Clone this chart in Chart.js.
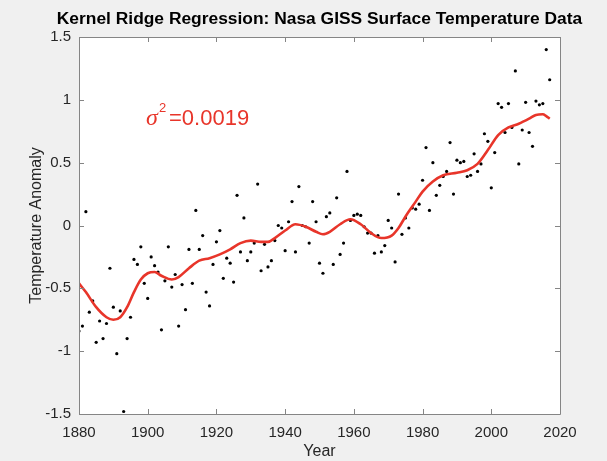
<!DOCTYPE html>
<html>
<head>
<meta charset="utf-8">
<script src="https://cdn.jsdelivr.net/npm/chart.js@4.4.1/dist/chart.umd.min.js"></script>
<style>
  body { margin: 0; background: #f0f0f0; }
  #wrap { position: relative; width: 607px; height: 461px; }
</style>
</head>
<body>
<div id="wrap"><canvas id="krr-chart"></canvas></div>
<script>
// Anomalies annuelles (points noirs)
const years = [
  1880, 1881, 1882, 1883, 1884, 1885, 1886, 1887, 1888, 1889,
  1890, 1891, 1892, 1893, 1894, 1895, 1896, 1897, 1898, 1899,
  1900, 1901, 1902, 1903, 1904, 1905, 1906, 1907, 1908, 1909,
  1910, 1911, 1912, 1913, 1914, 1915, 1916, 1917, 1918, 1919,
  1920, 1921, 1922, 1923, 1924, 1925, 1926, 1927, 1928, 1929,
  1930, 1931, 1932, 1933, 1934, 1935, 1936, 1937, 1938, 1939,
  1940, 1941, 1942, 1943, 1944, 1945, 1946, 1947, 1948, 1949,
  1950, 1951, 1952, 1953, 1954, 1955, 1956, 1957, 1958, 1959,
  1960, 1961, 1962, 1963, 1964, 1965, 1966, 1967, 1968, 1969,
  1970, 1971, 1972, 1973, 1974, 1975, 1976, 1977, 1978, 1979,
  1980, 1981, 1982, 1983, 1984, 1985, 1986, 1987, 1988, 1989,
  1990, 1991, 1992, 1993, 1994, 1995, 1996, 1997, 1998, 1999,
  2000, 2001, 2002, 2003, 2004, 2005, 2006, 2007, 2008, 2009,
  2010, 2011, 2012, 2013, 2014, 2015, 2016, 2017
];
const anomalies = [
  -0.84, -0.80, 0.11, -0.69, -0.60, -0.93, -0.76, -0.90, -0.78, -0.34,
  -0.65, -1.02, -0.68, -1.48, -0.90, -0.73, -0.27, -0.31, -0.17, -0.46,
  -0.58, -0.25, -0.32, -0.37, -0.83, -0.44, -0.17, -0.49, -0.39, -0.80,
  -0.47, -0.67, -0.19, -0.46, 0.12, -0.19, -0.08, -0.53, -0.64, -0.31,
  -0.13, -0.04, -0.42, -0.26, -0.30, -0.45, 0.24, -0.21, 0.06, -0.28,
  -0.21, -0.14, 0.33, -0.36, -0.15, -0.33, -0.28, -0.12, 0.00, -0.02,
  -0.20, 0.03, 0.19, -0.21, 0.31, 0.00, -0.01, -0.14, 0.19, 0.03,
  -0.30, -0.38, 0.07, 0.10, -0.31, 0.22, -0.23, -0.14, 0.43, 0.04,
  0.08, 0.09, 0.08, -0.01, -0.06, -0.06, -0.22, -0.08, -0.21, -0.16,
  0.04, -0.02, -0.29, 0.25, -0.07, 0.06, -0.02, 0.14, 0.13, 0.17,
  0.36, 0.62, 0.12, 0.50, 0.24, 0.32, 0.39, 0.43, 0.66, 0.25,
  0.52, 0.50, 0.51, 0.39, 0.40, 0.57, 0.43, 0.49, 0.73, 0.67,
  0.30, 0.58, 0.97, 0.94, 0.74, 0.97, 0.78, 1.23, 0.49, 0.76,
  0.98, 0.74, 0.63, 0.99, 0.96, 0.97, 1.40, 1.16
];

// Courbe de régression
const fitYears = [
  1880, 1882, 1885, 1888, 1890, 1892, 1894, 1896, 1898, 1900,
  1902, 1904, 1907, 1909, 1912, 1915, 1918, 1921, 1924, 1927,
  1930, 1933, 1935, 1937, 1940, 1943, 1946, 1949, 1951, 1953,
  1956, 1959, 1962, 1965, 1968, 1971, 1973, 1975, 1978, 1980,
  1983, 1986, 1990, 1993, 1996, 1999, 2002, 2005, 2008, 2011,
  2013, 2015, 2016, 2017
];
const fitValues = [
  -0.46, -0.53, -0.65, -0.73, -0.75, -0.73, -0.65, -0.53, -0.43, -0.38,
  -0.37, -0.40, -0.43, -0.41, -0.34, -0.28, -0.26, -0.23, -0.19, -0.14,
  -0.12, -0.13, -0.13, -0.10, -0.04, 0.01, -0.01, -0.05, -0.07, -0.05,
  0.01, 0.05, 0.01, -0.06, -0.10, -0.08, -0.02, 0.07, 0.19, 0.27,
  0.35, 0.40, 0.42, 0.44, 0.49, 0.60, 0.72, 0.78, 0.81, 0.85,
  0.88, 0.885, 0.87, 0.85
];

const xTicks = [1880, 1900, 1920, 1940, 1960, 1980, 2000, 2020];
const yTicks = [-1.5, -1, -0.5, 0, 0.5, 1, 1.5];

const chartTitle = 'Kernel Ridge Regression: Nasa GISS Surface Temperature Data';
const sigmaLabel = '\u03C3';
const sigmaPower = '2';
const sigmaValue = '=0.0019';

const FONT = '"Liberation Sans", Arial, Helvetica, sans-serif';
const RED = '#e8352a';
const AXIS_GRAY = '#858585';

// Fond gris + zone de tracé blanche
const backgroundPlugin = {
    id: 'matlabBackground',
    beforeDraw(chart) {
        const ctx = chart.ctx;
        const a = chart.chartArea;
        ctx.save();
        ctx.fillStyle = '#f0f0f0';
        ctx.fillRect(0, 0, chart.width, chart.height);
        ctx.fillStyle = '#ffffff';
        ctx.fillRect(a.left, a.top, a.right - a.left, a.bottom - a.top);
        ctx.restore();
    }
};

// Cadre et graduations vers l'intérieur, comme dans MATLAB
const boxPlugin = {
    id: 'matlabBox',
    afterDraw(chart) {
        const ctx = chart.ctx;
        const a = chart.chartArea;
        const xs = chart.scales.x;
        const ys = chart.scales.y;
        const len = 5;
        ctx.save();
        ctx.strokeStyle = AXIS_GRAY;
        ctx.lineWidth = 1;
        ctx.beginPath();
        ctx.rect(Math.round(a.left) + 0.5, Math.round(a.top) + 0.5,
                 Math.round(a.right - a.left), Math.round(a.bottom - a.top));
        xTicks.forEach(v => {
            const px = Math.round(xs.getPixelForValue(v)) + 0.5;
            ctx.moveTo(px, a.bottom);
            ctx.lineTo(px, a.bottom - len);
            ctx.moveTo(px, a.top);
            ctx.lineTo(px, a.top + len);
        });
        yTicks.forEach(v => {
            const py = Math.round(ys.getPixelForValue(v)) + 0.5;
            ctx.moveTo(a.left, py);
            ctx.lineTo(a.left + len, py);
            ctx.moveTo(a.right, py);
            ctx.lineTo(a.right - len, py);
        });
        ctx.stroke();
        ctx.restore();
    }
};

// Titre centré sur la zone de tracé + annotation sigma^2
const textPlugin = {
    id: 'matlabText',
    afterDraw(chart) {
        const ctx = chart.ctx;
        const a = chart.chartArea;
        ctx.save();
        ctx.fillStyle = '#000000';
        ctx.textAlign = 'center';
        ctx.textBaseline = 'middle';
        ctx.font = 'bold 17.4px ' + FONT;
        ctx.fillText(chartTitle, (a.left + a.right) / 2, 19);

        ctx.textAlign = 'left';
        ctx.fillStyle = RED;
        ctx.textBaseline = 'alphabetic';
        ctx.font = 'italic 24px "Liberation Serif", "DejaVu Serif", serif';
        ctx.fillText(sigmaLabel, 146, 125);
        ctx.font = '13px ' + FONT;
        ctx.fillText(sigmaPower, 159, 112);
        ctx.font = '22px ' + FONT;
        ctx.fillText(sigmaValue, 169, 125);
        ctx.restore();
    }
};

function createKrrChart(canvasId) {
    const ctx = document.getElementById(canvasId).getContext('2d');
    const points = years.map((y, i) => ({ x: y, y: anomalies[i] }));
    const fit = fitYears.map((y, i) => ({ x: y, y: fitValues[i] }));

    return new Chart(ctx, {
        type: 'scatter',
        data: {
            datasets: [
                {
                    label: 'Régression',
                    data: fit,
                    showLine: true,
                    borderColor: RED,
                    borderWidth: 2.6,
                    pointRadius: 0,
                    tension: 0.4,
                    cubicInterpolationMode: 'monotone',
                    fill: false,
                    order: 0
                },
                {
                    label: 'Données',
                    data: points,
                    backgroundColor: '#000000',
                    borderColor: '#000000',
                    borderWidth: 0,
                    pointRadius: 1.6,
                    order: 1
                }
            ]
        },
        options: {
            responsive: true,
            maintainAspectRatio: false,
            animation: false,
            layout: { padding: { left: 0, right: 47, top: 37, bottom: 0 } },
            scales: {
                x: {
                    type: 'linear',
                    min: 1880,
                    max: 2020,
                    afterBuildTicks: scale => { scale.ticks = xTicks.map(v => ({ value: v })); },
                    afterFit: scale => { scale.height = 47; },
                    grid: { display: false, drawTicks: false },
                    border: { display: false },
                    ticks: {
                        padding: 10,
                        color: '#262626',
                        font: { family: FONT, size: 15 },
                        callback: v => String(v)
                    },
                    title: {
                        display: true,
                        text: 'Year',
                        color: '#262626',
                        font: { family: FONT, size: 16 },
                        padding: { top: 0, bottom: 0 }
                    }
                },
                y: {
                    min: -1.5,
                    max: 1.5,
                    afterBuildTicks: scale => { scale.ticks = yTicks.map(v => ({ value: v })); },
                    afterFit: scale => { scale.width = 79; },
                    grid: { display: false, drawTicks: false },
                    border: { display: false },
                    ticks: {
                        padding: 8,
                        color: '#262626',
                        font: { family: FONT, size: 15 },
                        callback: v => String(v)
                    },
                    title: {
                        display: true,
                        text: 'Temperature Anomaly',
                        color: '#262626',
                        font: { family: FONT, size: 16 },
                        padding: { top: 27, bottom: 0 }
                    }
                }
            },
            plugins: {
                legend: { display: false },
                tooltip: { enabled: false },
                title: { display: false }
            }
        },
        plugins: [backgroundPlugin, boxPlugin, textPlugin]
    });
}

createKrrChart('krr-chart');
</script>
</body>
</html>
